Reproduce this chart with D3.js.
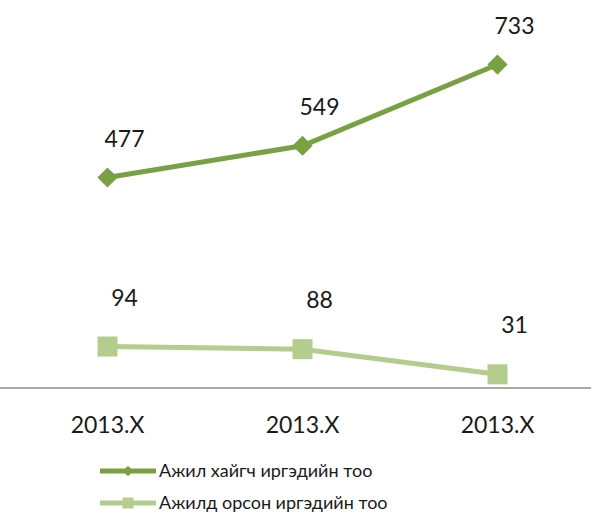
<!DOCTYPE html>
<html>
<head>
<meta charset="utf-8">
<script src="https://cdn.jsdelivr.net/npm/d3@7"></script>
<style>
  body { margin: 0; background: #fff; }
  svg { font-family: Lato, "Open Sans", sans-serif; }
</style>
</head>
<body>
<div id="chart"></div>
<script>
// categories and series
var categories = ["2013.X", "2013.X ", "2013.X  "];
var seekers = [477, 549, 733];
var employed = [94, 88, 31];
var seriesNames = ["Ажил хайгч иргэдийн тоо", "Ажилд орсон иргэдийн тоо"];

var width = 591, height = 516;
var darkGreen = "#79A143", lightGreen = "#B4CC8C";

var svg = d3.select('#chart')
    .append('svg')
    .attr('width', width)
    .attr('height', height);

var x = d3.scaleBand()
    .domain(categories)
    .range([10, 595]);

var y = d3.scaleLinear()
    .domain([0, 800])
    .range([388, 35]);

// category axis
var xAxis = svg.append('g')
    .attr('transform', 'translate(0,' + y(0) + ')')
    .call(d3.axisBottom(x).tickSize(0).tickPadding(29));
xAxis.select('.domain')
    .attr('stroke', '#8c8c8c')
    .attr('stroke-width', 1.5)
    .attr('d', 'M0,0H' + width);
xAxis.selectAll('text')
    .attr('font-size', 23)
    .attr('font-family', 'Lato, "Open Sans", sans-serif')
    .attr('fill', '#1a1a1a');

var line = d3.line()
    .x(function(d, i){ return x(categories[i]) + x.bandwidth() / 2; })
    .y(function(d){ return y(d); });

function drawSeries(data, color, symbol, size, labelDy) {
    svg.append('path')
        .datum(data)
        .attr('d', line)
        .attr('fill', 'none')
        .attr('stroke', color)
        .attr('stroke-width', 5);

    svg.selectAll(null)
        .data(data)
        .enter()
        .append('path')
        .attr('d', d3.symbol().type(symbol).size(size))
        .attr('transform', function(d, i){
            return 'translate(' + (x(categories[i]) + x.bandwidth() / 2) + ',' + y(d) + ')';
        })
        .attr('fill', color);

    svg.selectAll(null)
        .data(data)
        .enter()
        .append('text')
        .attr('x', function(d, i){ return x(categories[i]) + x.bandwidth() / 2 + 17; })
        .attr('y', function(d){ return y(d) + labelDy; })
        .attr('text-anchor', 'middle')
        .attr('font-size', 23)
        .attr('fill', '#1a1a1a')
        .text(function(d){ return d; });
}

drawSeries(seekers, darkGreen, d3.symbolDiamond2, 260, -31);
drawSeries(employed, lightGreen, d3.symbolSquare, 400, -41);

// legend
var legend = svg.selectAll('.legend')
    .data(seriesNames)
    .enter()
    .append('g')
    .attr('transform', function(d, i){ return 'translate(100,' + (471 + i * 32) + ')'; });

legend.append('line')
    .attr('x1', 0).attr('x2', 56)
    .attr('stroke', function(d, i){ return i === 0 ? darkGreen : lightGreen; })
    .attr('stroke-width', 5);

legend.append('path')
    .attr('transform', 'translate(28,0)')
    .attr('d', function(d, i){
        return d3.symbol().type(i === 0 ? d3.symbolDiamond2 : d3.symbolSquare).size(i === 0 ? 70 : 120)();
    })
    .attr('fill', function(d, i){ return i === 0 ? darkGreen : lightGreen; });

legend.append('text')
    .attr('x', 59)
    .attr('y', 6)
    .attr('font-size', 18)
    .attr('fill', '#1a1a1a')
    .text(function(d){ return d; });
</script>
</body>
</html>
